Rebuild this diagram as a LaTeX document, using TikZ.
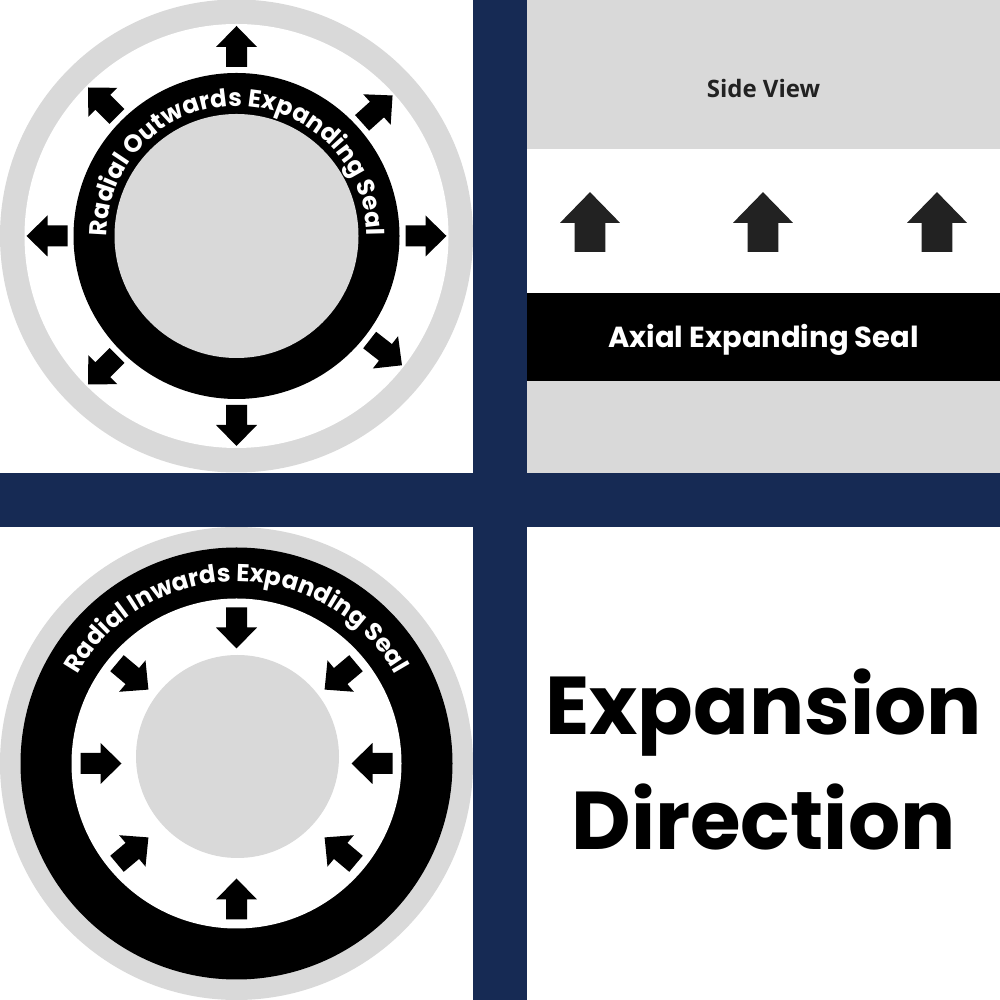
\documentclass[tikz,border=0pt]{standalone}
\usepackage{fontspec}
\setmainfont{Poppins}
\newfontfamily\viewfont{Open Sans}
\usetikzlibrary{decorations.text}
\definecolor{navyband}{RGB}{22,42,84}
\definecolor{sealgray}{RGB}{217,217,217}
\definecolor{arrowgray}{RGB}{34,34,34}
\newcommand{\sealfont}{\bfseries\fontsize{24.5}{24.5}\selectfont}

\tikzset{
  blockarrow/.pic={
    \fill (0,-10.5) -- (20,-10.5) -- (20,-20.5) -- (41,0) -- (20,20.5) -- (20,10.5) -- (0,10.5) -- cycle;
  },
  ringtext/.style={decorate, decoration={text along path, text align=center, text={#1}}}
}

\begin{document}
\begin{tikzpicture}[x=1pt,y=1pt]
    \useasboundingbox (0,0) rectangle (1000,1000);
    \fill[white] (0,0) rectangle (1000,1000);
    % outwards seal
    \begin{scope}[shift={(236.5,764)}]
        \fill[sealgray] (0,0) circle (236.5);
        \fill[white] (0,0) circle (212);
        \fill[black] (0,0) circle (163);
        \fill[sealgray] (0,0) circle (122);
        \foreach \a in {90,42,0,-38,-90,-135,180,135}{
            \pic[rotate=\a] at (\a:169) {blockarrow};
        }
        \path[ringtext={|\color{white}\sealfont|Radial Outwards Expanding Seal}] (180:130) arc (180:0:130);
    \end{scope}
    % inwards seal
    \begin{scope}[shift={(236.5,236.5)}]
        \fill[sealgray] (0,0) circle (236.5);
        \fill[black] (0,0) circle (216);
        \fill[white] (0,0) circle (165);
        \fill[sealgray] (1,7) circle (101.5);
        \foreach \a in {90,40,0,-40,-90,-140,180,140}{
            \pic[rotate=\a+180] at (\a:156) {blockarrow};
        }
        \path[ringtext={|\color{white}\sealfont|Radial Inwards Expanding Seal}] (180:182) arc (180:0:182);
    \end{scope}
    % side view
    \fill[sealgray] (527,527) rectangle (1000,1000);
    \fill[white] (527,707) rectangle (1000,851);
    \fill[black] (527,619) rectangle (1000,707);
    \node[anchor=base, text=arrowgray, font=\viewfont\bfseries\fontsize{24}{24}\selectfont] (sideview) at (763.5,902) {Side View};
    \foreach \x in {590,763,937}{
        \pic[color=arrowgray, rotate=90, scale=1.46] at (\x,748) {blockarrow};
    }
    \node[anchor=base, text=white, font=\bfseries\fontsize{29}{29}\selectfont] (axial) at (763.5,652) {Axial Expanding Seal};
    % title
    \node[anchor=base, font=\bfseries\fontsize{82}{82}\selectfont] (expansion) at (763.5,265) {Expansion};
    \node[anchor=base, font=\bfseries\fontsize{82}{82}\selectfont] (direction) at (763.5,150) {Direction};
    % navy cross
    \fill[navyband] (473,0) rectangle (527,1000);
    \fill[navyband] (0,473) rectangle (1000,527);
\end{tikzpicture}
\end{document}
